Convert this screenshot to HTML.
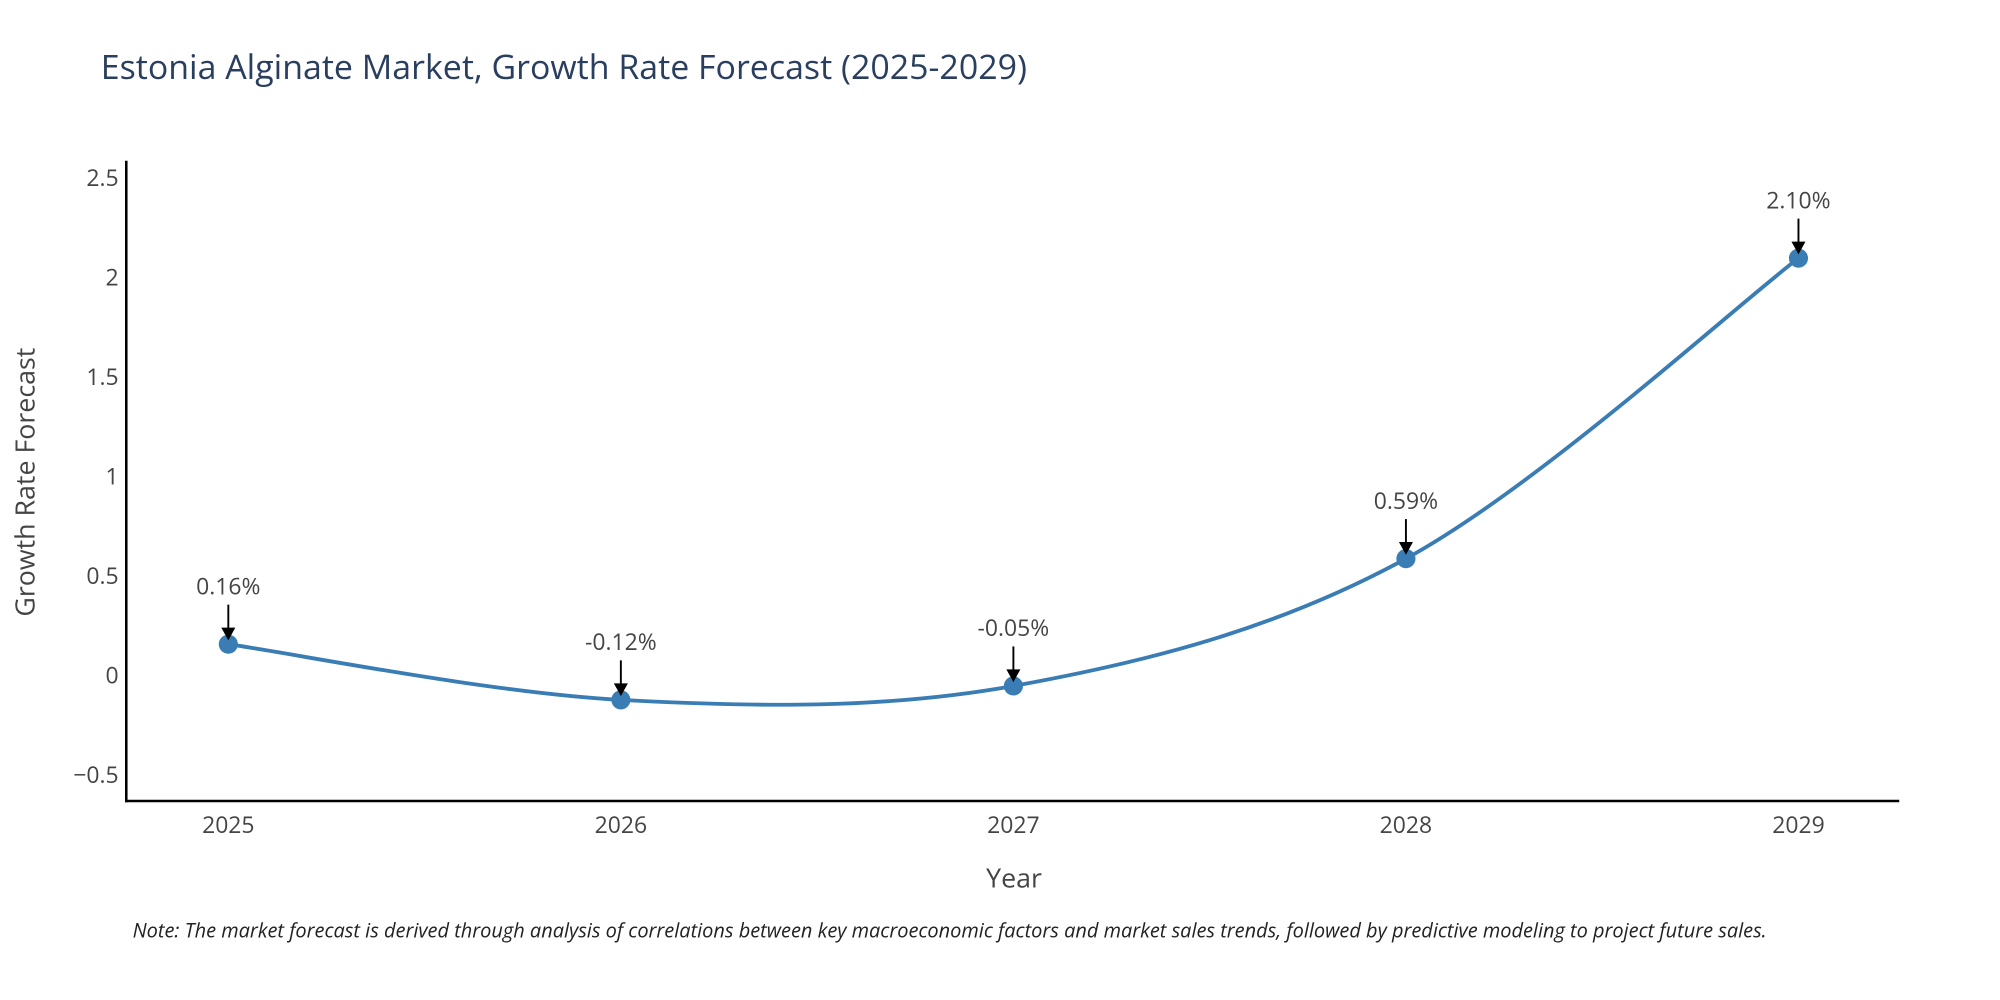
<!DOCTYPE html>
<html><head><meta charset="utf-8"><style>
html,body{margin:0;padding:0;background:#fff;}
svg{display:block;font-family:"Open Sans","Liberation Sans",sans-serif;}
</style></head><body>
<svg id="chart" width="2000" height="1000" viewBox="0 0 1568 784" xmlns="http://www.w3.org/2000/svg">
<text x="79" y="62" font-size="26.6" fill="#2a3f5f">Estonia Alginate Market, Growth Rate Forecast (2025-2029)</text>
<g id="yticks"></g>
<g id="xticks"></g>
<g id="series"></g>
<g id="annots"></g>
<line x1="99" y1="126" x2="99" y2="629" stroke="#000" stroke-width="2"/>
<line x1="98" y1="628" x2="1489" y2="628" stroke="#000" stroke-width="2"/>
<text x="795" y="696" font-size="21" fill="#444" text-anchor="middle">Year</text>
<text transform="translate(27,378) rotate(-90)" font-size="21" fill="#444" text-anchor="middle">Growth Rate Forecast</text>
<text x="104" y="735" font-size="15.65" font-style="italic" fill="#222">Note: The market forecast is derived through analysis of correlations between key macroeconomic factors and market sales trends, followed by predictive modeling to project future sales.</text>
</svg>
<script>
const years = [2025, 2026, 2027, 2028, 2029];
const growth = [0.16, -0.12, -0.05, 0.59, 2.10];
const labels = ["0.16%", "-0.12%", "-0.05%", "0.59%", "2.10%"];
const yTicks = [-0.5, 0, 0.5, 1, 1.5, 2, 2.5];
const yTickLabels = ["\u22120.5", "0", "0.5", "1", "1.5", "2", "2.5"];

const NS = "http://www.w3.org/2000/svg";
function xs(v){ return 179 + (v - 2025) * 307.75; }
function ys(v){ return 530 - v * 156; }
function mk(tag, attrs, parent){ const e=document.createElementNS(NS,tag); for(const k in attrs) e.setAttribute(k,attrs[k]); parent.appendChild(e); return e; }

const yt=document.getElementById('yticks');
yTicks.forEach((t,i)=>{
  const e=mk('text',{x:93,y:ys(t)+6,'font-size':18,fill:'#444','text-anchor':'end'},yt);
  
  
  e.textContent=yTickLabels[i];
});
const xt=document.getElementById('xticks');
years.forEach(y=>{
  const e=mk('text',{x:xs(y),y:653,'font-size':18,fill:'#444','text-anchor':'middle'},xt);
  
  
  e.textContent=String(y);
});

const pts=years.map((y,i)=>[xs(y),ys(growth[i])]);
let d='M'+pts[0][0]+','+pts[0][1];
for(let i=0;i<pts.length-1;i++){
  const p0=pts[i-1]||pts[i], p1=pts[i], p2=pts[i+1], p3=pts[i+2]||pts[i+1];
  const c1=[p1[0]+(p2[0]-p0[0])/6, p1[1]+(p2[1]-p0[1])/6];
  const c2=[p2[0]-(p3[0]-p1[0])/6, p2[1]-(p3[1]-p1[1])/6];
  d+=' C'+c1.join(',')+' '+c2.join(',')+' '+p2.join(',');
}
const s=document.getElementById('series');
const line=mk('path',{d:d,fill:'none',stroke:'#3a7db4','stroke-width':3},s);


pts.forEach(p=>{
  const c=mk('circle',{cx:p[0],cy:p[1],r:7.5,fill:'#3a7db4'},s);
  
  
});
const a=document.getElementById('annots');
pts.forEach((p,i)=>{
  const top=p[1]-31;
  const l=mk('line',{x1:p[0],y1:top,x2:p[0],y2:p[1]-12,stroke:'#000','stroke-width':1.5},a);
  
  
  const h=mk('polygon',{points:(p[0]-5.5)+','+(p[1]-13)+' '+(p[0]+5.5)+','+(p[1]-13)+' '+p[0]+','+(p[1]-3),fill:'#000'},a);
  
  
  const t=mk('text',{x:p[0],y:top-8,'font-size':18,fill:'#444','text-anchor':'middle'},a);
  
  
  t.textContent=labels[i];
});
</script>
</body></html>
